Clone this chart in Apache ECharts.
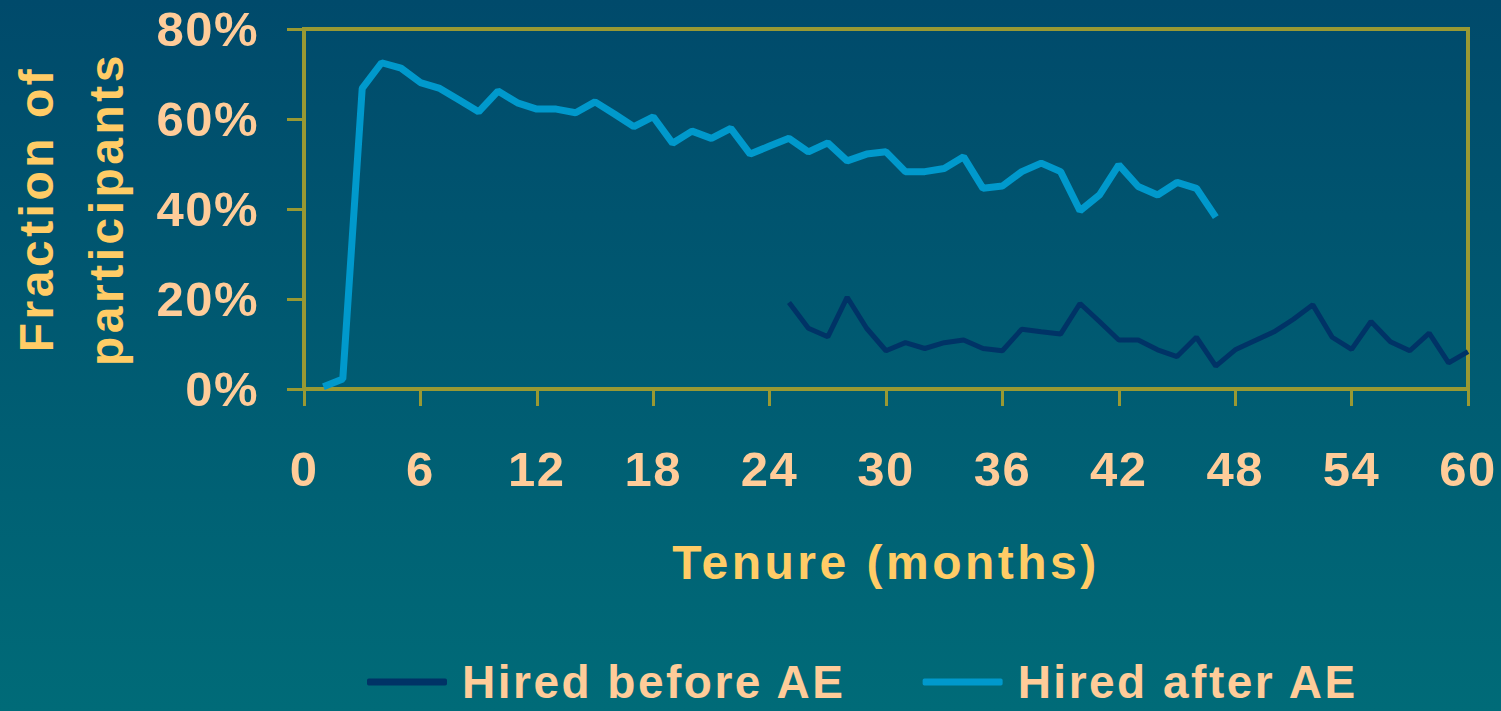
<!DOCTYPE html>
<html>
<head>
<meta charset="utf-8">
<script src="https://cdn.jsdelivr.net/npm/echarts@6/dist/echarts.min.js"></script>
<style>
    html, body { margin: 0; padding: 0; }
    body { background: linear-gradient(#004a6b, #006b78); }
    #main { width: 1501px; height: 711px; }
    /* titles 48px wide tracking, tick labels 49px, legend 46px */
    #main text[style*="48px"] { letter-spacing: 3.5px; }
    #main text[style*="49px"] { letter-spacing: 1.5px; }
    #main text[style*="46px"] { letter-spacing: 2.5px; }
</style>
</head>
<body>
<div id="main"></div>
<script>
// tenure in months and % of participants
var monthsAfter = [];
for (var m = 1; m <= 47; m++) monthsAfter.push(m);
var monthsBefore = [];
for (var m = 25; m <= 60; m++) monthsBefore.push(m);

var hiredAfter = [0.5, 2.2, 66.8, 72.5, 71.3, 68.1, 66.8, 64.2, 61.6, 66.2,
    63.6, 62.2, 62.2, 61.4, 63.8, 61.1, 58.3, 60.5, 54.6, 57.3,
    55.7, 57.9, 52.2, 54.0, 55.7, 52.7, 54.7, 50.7, 52.2, 52.7,
    48.3, 48.3, 49.0, 51.6, 44.6, 45.1, 48.3, 50.2, 48.3, 39.6,
    43.1, 49.8, 45.0, 43.1, 45.9, 44.6, 38.2];

var hiredBefore = [19.2, 13.5, 11.6, 20.4, 13.5, 8.5, 10.3, 9.0, 10.3, 10.9,
    9.0, 8.5, 13.3, 12.7, 12.2, 19.0, 15.0, 10.9, 10.9, 8.7,
    7.2, 11.5, 5.1, 8.7, 10.7, 12.7, 15.5, 18.7, 11.5, 8.8,
    15.0, 10.5, 8.5, 12.4, 5.8, 8.3];

var legendNames = ['Hired before AE', 'Hired after AE'];
var colors = ['#003366', '#0099cc'];

function pairs(xs, ys){
    var out = [];
    for(var i = 0;i<xs.length;i++){
        out.push([xs[i], ys[i]]);
    }
    return out;
}

var chart = echarts.init(document.getElementById('main'), null, {renderer: 'svg'});
var olive = '#999933';
var option = {
    backgroundColor: 'transparent',
    textStyle: {
        fontFamily: 'Liberation Sans, Arial, sans-serif',
        fontWeight: 'bold'
    },
    grid: {
        left: 304,
        right: 33,
        top: 29,
        bottom: 322,
        outerBoundsMode: 'none',
        containLabel: false,
        show: true,
        borderColor: olive,
        borderWidth: 4,
        backgroundColor: 'transparent'
    },
    legend: {
        data: [
            {name: legendNames[0], icon: 'roundRect', itemStyle: {color: colors[0]}},
            {name: legendNames[1], icon: 'roundRect', itemStyle: {color: colors[1]}}
        ],
        top: 654,
        left: 362,
        itemWidth: 80,
        itemHeight: 7,
        itemGap: 113,
        textStyle: {
            color: '#ffcc99',
            fontSize: 46,
            lineHeight: 46,
            fontWeight: 'bold',
            padding: [0, 0, 0, 10]
        }
    },
    xAxis: {
        type: 'value',
        min: 0,
        max: 60,
        interval: 6,
        name: 'Tenure (months)',
        nameLocation: 'middle',
        nameGap: 149,
        nameTextStyle: {
            color: '#ffcc66',
            fontSize: 48,
            fontWeight: 'bold'
        },
        axisLine: { lineStyle: { color: olive, width: 4 } },
        axisTick: { show: true, length: 17, lineStyle: { color: olive, width: 3 } },
        axisLabel: {
            margin: 55,
            color: '#ffcc99',
            fontSize: 49,
            fontWeight: 'bold'
        },
        splitLine: { show: false }
    },
    yAxis: {
        type: 'value',
        min: 0,
        max: 80,
        interval: 20,
        name: 'Fraction of\nparticipants',
        nameLocation: 'middle',
        nameRotate: 90,
        nameGap: 163,
        nameTextStyle: {
            color: '#ffcc66',
            fontSize: 48,
            fontWeight: 'bold',
            lineHeight: 70
        },
        axisLine: { show: true, lineStyle: { color: olive, width: 4 } },
        axisTick: { show: true, length: 17, lineStyle: { color: olive, width: 3 } },
        axisLabel: {
            margin: 45,
            color: '#ffcc99',
            fontSize: 49,
            fontWeight: 'bold',
            formatter: '{value}%'
        },
        splitLine: { show: false }
    },
    series: [{
        name: legendNames[0],
        type: 'line',
        data: pairs(monthsBefore, hiredBefore),
        symbol: 'none',
        lineStyle: { color: colors[0], width: 5 },
        itemStyle: { color: colors[0] }
    },{
        name: legendNames[1],
        type: 'line',
        data: pairs(monthsAfter, hiredAfter),
        symbol: 'none',
        lineStyle: { color: colors[1], width: 7 },
        itemStyle: { color: colors[1] }
    }]
};
chart.setOption(option);
</script>
</body>
</html>
